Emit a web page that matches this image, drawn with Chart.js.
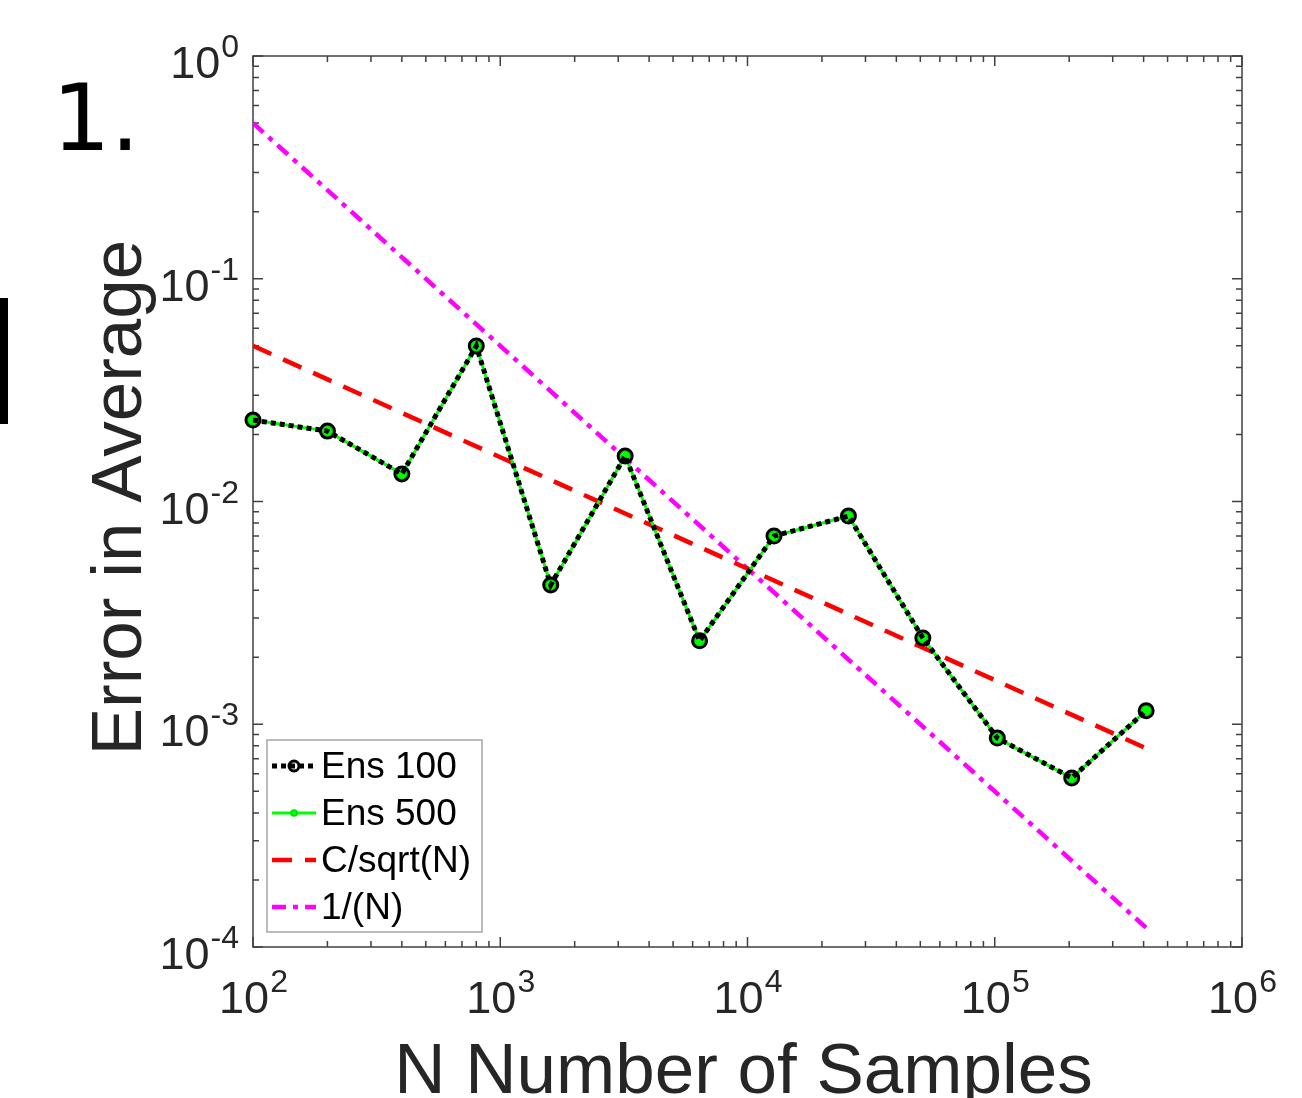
<!DOCTYPE html>
<html>
<head>
<meta charset="utf-8">
<script src="https://cdn.jsdelivr.net/npm/chart.js@4"></script>
<style>
  html, body { margin: 0; padding: 0; background: #fff; }
  #myChart { display: block; }
</style>
</head>
<body>
<canvas id="myChart" width="1302" height="1098"></canvas>
<script>
// sample counts and errors
const samples = [100, 200, 400, 800, 1600, 3200, 6400, 12800, 25600, 51200, 102400, 204800, 409600];
const ens100 = [0.0232, 0.0207, 0.0133, 0.0499, 0.00422, 0.0160, 0.00237, 0.0070, 0.0086, 0.00244, 0.000867, 0.000574, 0.00115];
const ens500 = [0.0232, 0.0207, 0.0133, 0.0499, 0.00422, 0.0160, 0.00237, 0.0070, 0.0086, 0.00244, 0.000867, 0.000574, 0.00115];

// reference lines, end points only
const refSamples = [100, 409600];
const sqrtRef = [0.05, 0.00078];
const invRef = [0.5, 0.000122];

const xTickExps = [2, 3, 4, 5, 6];
const yTickExps = [-4, -3, -2, -1, 0];

const FONT = '"Liberation Sans", Arial, sans-serif';
const TEXT = '#262626';

function pairs(xs, ys)
{
    var out = [];
    xs.forEach((x, i) => out.push({ x: x, y: ys[i] }));
    return out;
}

function powLabel(ctx, e, x, y, align)
{
    ctx.font = '45px ' + FONT;
    var wb = ctx.measureText('10').width;
    ctx.font = '32px ' + FONT;
    var we = ctx.measureText(String(e)).width;
    var left = align === 'center' ? x - (wb + we) / 2 : x - wb - we;
    ctx.textAlign = 'left';
    ctx.textBaseline = 'alphabetic';
    ctx.font = '45px ' + FONT;
    ctx.fillText('10', left, y);
    ctx.font = '32px ' + FONT;
    ctx.fillText(String(e), left + wb + 1, y - 21);
}

// MATLAB-like box, inward ticks, labels, titles
const axesPlugin = {
    id: 'matlabAxes',
    beforeDatasetsDraw(chart)
    {
        const ctx = chart.ctx;
        const a = chart.chartArea;
        const xs = chart.scales.x, ys = chart.scales.y;
        ctx.save();
        ctx.strokeStyle = '#404040';
        ctx.lineWidth = 1.5;
        ctx.beginPath();

        for (let e = xTickExps[0]; e <= xTickExps[xTickExps.length - 1]; e++) {
            for (let m = 1; m <= 9; m++) {
                if (e === xTickExps[xTickExps.length - 1] && m > 1) break;
                const px = xs.getPixelForValue(m * Math.pow(10, e));
                const len = m === 1 ? 10 : 6;
                ctx.moveTo(px, a.bottom); ctx.lineTo(px, a.bottom - len);
                ctx.moveTo(px, a.top); ctx.lineTo(px, a.top + len);
            }
        }
        for (let e = yTickExps[0]; e <= yTickExps[yTickExps.length - 1]; e++) {
            for (let m = 1; m <= 9; m++) {
                if (e === yTickExps[yTickExps.length - 1] && m > 1) break;
                const py = ys.getPixelForValue(m * Math.pow(10, e));
                const len = m === 1 ? 10 : 6;
                ctx.moveTo(a.left, py); ctx.lineTo(a.left + len, py);
                ctx.moveTo(a.right, py); ctx.lineTo(a.right - len, py);
            }
        }
        ctx.stroke();
        ctx.strokeRect(a.left, a.top, a.right - a.left, a.bottom - a.top);

        ctx.fillStyle = TEXT;
        xTickExps.forEach(e => {
            powLabel(ctx, e, xs.getPixelForValue(Math.pow(10, e)), a.bottom + 66, 'center');
        });
        yTickExps.forEach(e => {
            powLabel(ctx, e, a.left - 15, ys.getPixelForValue(Math.pow(10, e)) + 22, 'right');
        });

        ctx.font = '71px ' + FONT;
        ctx.textAlign = 'center';
        ctx.textBaseline = 'alphabetic';
        ctx.fillText('N Number of Samples', (a.left + a.right) / 2 - 4, 1093);

        ctx.save();
        ctx.translate(141, (a.top + a.bottom) / 2 - 4);
        ctx.rotate(-Math.PI / 2);
        ctx.fillText('Error in Average', 0, 0);
        ctx.restore();

        // panel number and the cut-off mark at the left edge
        ctx.fillStyle = '#000';
        ctx.font = '92px "DejaVu Sans", sans-serif';
        ctx.textAlign = 'left';
        ctx.fillText('1.', 52, 150);
        ctx.fillRect(0, 298, 8, 126);
        ctx.restore();
    },
    afterDatasetsDraw(chart)
    {
        const ctx = chart.ctx;
        const box = { left: 267, top: 740, right: 482, bottom: 932 };
        const rows = [766, 813, 860, 907];
        ctx.save();
        ctx.fillStyle = '#fff';
        ctx.fillRect(box.left, box.top, box.right - box.left, box.bottom - box.top);
        ctx.strokeStyle = '#a6a6a6';
        ctx.lineWidth = 1.5;
        ctx.strokeRect(box.left, box.top, box.right - box.left, box.bottom - box.top);

        chart.data.datasets.forEach((ds, i) => {
            const y = rows[i];
            ctx.save();
            ctx.strokeStyle = ds.borderColor;
            ctx.lineWidth = ds.borderWidth;
            ctx.setLineDash(ds.borderDash || []);
            ctx.beginPath();
            ctx.moveTo(272, y); ctx.lineTo(316, y);
            ctx.stroke();
            ctx.setLineDash([]);
            if (ds.pointRadius > 0) {
                ctx.beginPath();
                ctx.arc(294, y, ds.pointRadius - 2, 0, Math.PI * 2);
                ctx.fillStyle = ds.pointBackgroundColor;
                if (ds.pointBackgroundColor !== 'transparent') ctx.fill();
                ctx.strokeStyle = ds.pointBorderColor;
                ctx.lineWidth = ds.pointBorderWidth;
                ctx.stroke();
            }
            ctx.restore();
            ctx.fillStyle = '#000';
            ctx.font = '37px ' + FONT;
            ctx.textAlign = 'left';
            ctx.textBaseline = 'middle';
            ctx.fillText(ds.label, 321, y + 2);
        });
        ctx.restore();
    }
};

const config = {
    type: 'line',
    data: {
        datasets: [
            {
                label: 'Ens 100',
                data: pairs(samples, ens100),
                borderColor: '#000',
                borderWidth: 5,
                borderDash: [5, 4],
                pointRadius: 7,
                pointBorderColor: '#000',
                pointBorderWidth: 3,
                pointBackgroundColor: 'transparent',
                clip: false
            },
            {
                label: 'Ens 500',
                data: pairs(samples, ens500),
                borderColor: '#00ff00',
                borderWidth: 3,
                pointRadius: 5,
                pointBorderColor: '#00dd00',
                pointBorderWidth: 1.5,
                pointBackgroundColor: '#00ff00',
                clip: false
            },
            {
                label: 'C/sqrt(N)',
                data: pairs(refSamples, sqrtRef),
                borderColor: '#ff0000',
                borderWidth: 4.5,
                borderDash: [20, 13],
                pointRadius: 0
            },
            {
                label: '1/(N)',
                data: pairs(refSamples, invRef),
                borderColor: '#ff00ff',
                borderWidth: 4.5,
                borderDash: [14, 7, 5, 7],
                pointRadius: 0
            }
        ]
    },
    options: {
        responsive: false,
        animation: false,
        layout: { padding: { left: 253, top: 56, right: 60, bottom: 151 } },
        plugins: { legend: { display: false }, tooltip: { enabled: false } },
        scales: {
            x: { type: 'logarithmic', min: 100, max: 1000000, display: false },
            y: { type: 'logarithmic', min: 0.0001, max: 1, display: false }
        }
    },
    plugins: [axesPlugin]
};

new Chart(document.getElementById('myChart'), config);
</script>
</body>
</html>
